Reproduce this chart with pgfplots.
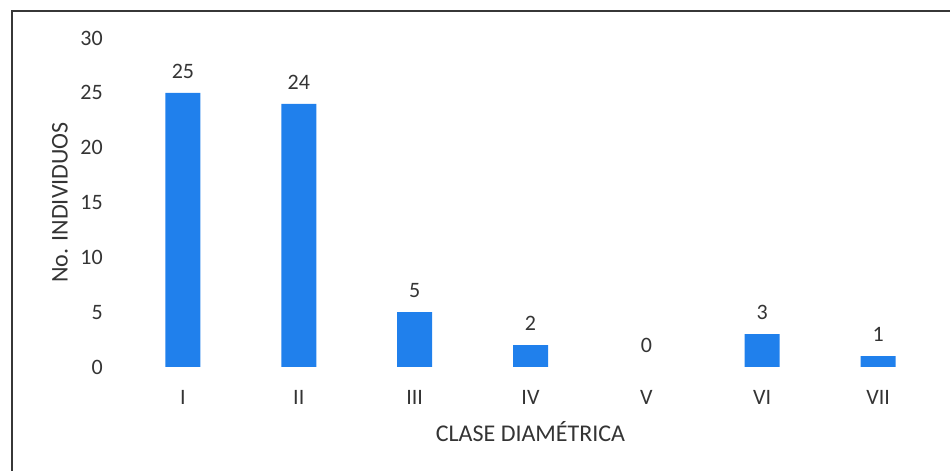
\documentclass[border=0pt]{standalone}
\usepackage{pgfplots}
\pgfplotsset{compat=1.18}
\usepackage{fontspec}
\setmainfont{Carlito}
\definecolor{barblue}{RGB}{32,128,236}
\definecolor{txtgray}{RGB}{52,52,52}
\definecolor{framegray}{RGB}{55,55,55}
\begin{document}
\begin{tikzpicture}
\useasboundingbox (0,0) rectangle (712.5pt,353.25pt);
% outer frame (left and top edges)
\draw[framegray, line width=2.2pt] (9pt,0pt) -- (9pt,345pt) -- (712.5pt,345pt);
\begin{axis}[
  at={(93.75pt,78pt)}, anchor=south west,
  scale only axis,
  width=608.25pt, height=246.75pt,
  xmin=-0.5, xmax=6.5,
  ymin=0, ymax=30,
  ytick={0,5,...,30},
  xtick={0,...,6},
  xticklabels={I,II,III,IV,V,VI,VII},
  axis line style={draw=none},
  major tick length=0pt,
  /pgf/number format/assume math mode=true,
  tick label style={font=\fontsize{16.5}{18}\selectfont, text=txtgray},
  yticklabel style={anchor=east, inner sep=0pt, xshift=-16.5pt},
  xticklabel style={anchor=north, inner sep=0pt, yshift=-17pt},
  xlabel={CLASE DIAMÉTRICA},
  ylabel={No. INDIVIDUOS},
  label style={font=\fontsize{18}{20}\selectfont, text=txtgray},
  xlabel style={at={(axis description cs:0.5,-0.1976)}, anchor=center},
  ylabel style={at={(axis description cs:-0.0801,0.5)}, anchor=center},
  ybar, bar width=26.25pt, bar shift=0pt,
  nodes near coords,
  every node near coord/.append style={font=\fontsize{16.5}{18}\selectfont, text=txtgray, anchor=center, yshift=16pt},
  clip=false,
]
% bars with a nonzero count
\addplot[fill=barblue, draw=none] coordinates {
  (0,25) (1,24) (2,5) (3,2) (5,3) (6,1)
};
% empty class: only its count is written
\addplot[fill=none, draw=none] coordinates {
  (4,0)
};
\end{axis}
\end{tikzpicture}
\end{document}
